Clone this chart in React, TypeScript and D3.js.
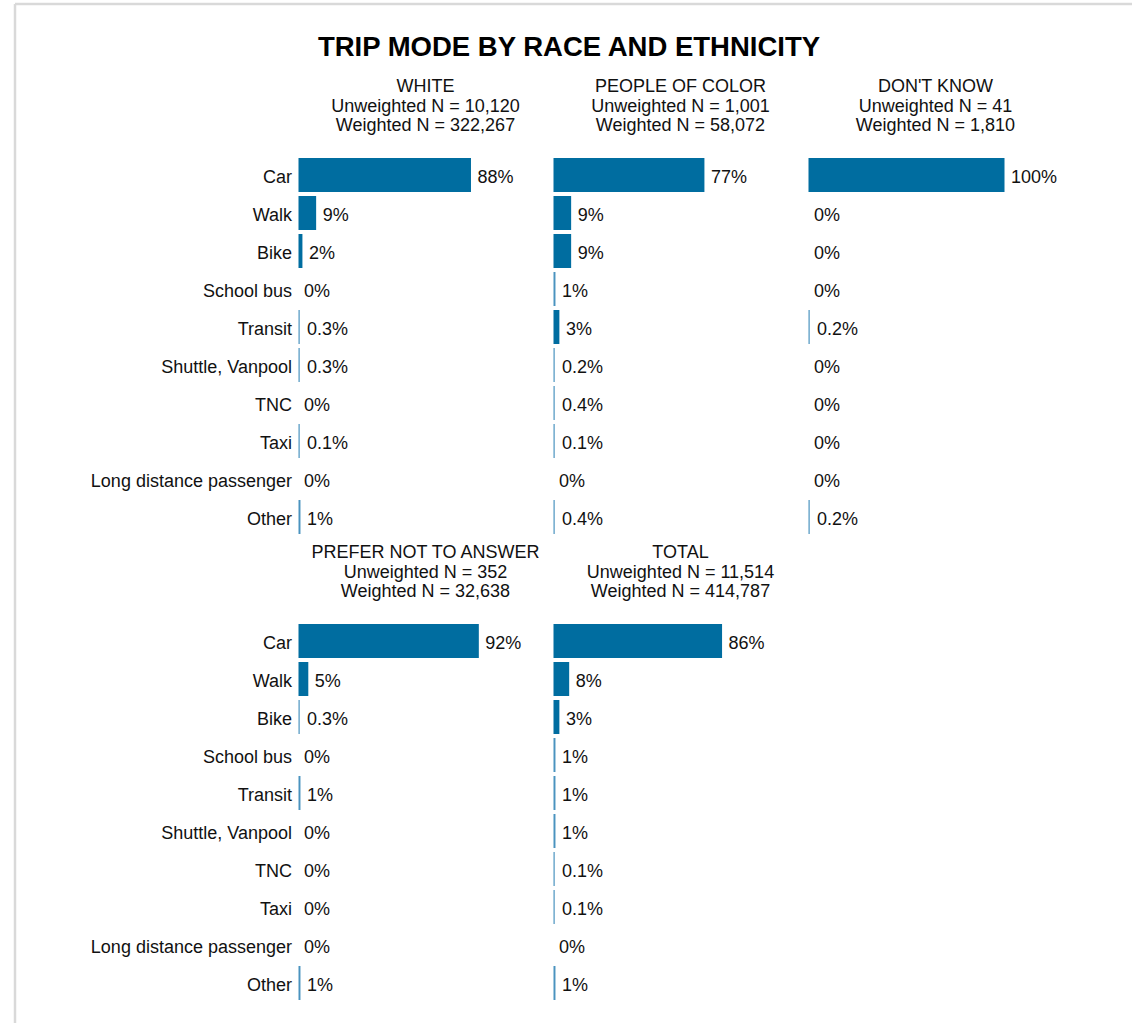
import React from "react";
import * as d3 from "d3";

const modes = [
  "Car",
  "Walk",
  "Bike",
  "School bus",
  "Transit",
  "Shuttle, Vanpool",
  "TNC",
  "Taxi",
  "Long distance passenger",
  "Other",
];

const groupNames = ["WHITE", "PEOPLE OF COLOR", "DON'T KNOW", "PREFER NOT TO ANSWER", "TOTAL"];
const unweightedN = ["10,120", "1,001", "41", "352", "11,514"];
const weightedN = ["322,267", "58,072", "1,810", "32,638", "414,787"];

const whiteValues = [88, 9, 2, 0, 0.3, 0.3, 0, 0.1, 0, 1];
const pocValues = [77, 9, 9, 1, 3, 0.2, 0.4, 0.1, 0, 0.4];
const dontKnowValues = [100, 0, 0, 0, 0.2, 0, 0, 0, 0, 0.2];
const preferNotValues = [92, 5, 0.3, 0, 1, 0, 0, 0, 0, 1];
const totalValues = [86, 8, 3, 1, 1, 1, 0.1, 0.1, 0, 1];

const groupValues = [whiteValues, pocValues, dontKnowValues, preferNotValues, totalValues];

const FONT = "'Liberation Sans', Arial, Helvetica, sans-serif";
const BAR = "#006da0";
const BAR_THIN = "#4a93bf";

function fmt(v: number) {
  if (v === 0) return "0%";
  if (v >= 1) return `${Math.round(v)}%`;
  return `${v.toFixed(1)}%`;
}

function Panel({ gi, x0, y0, showLabels }: { gi: number; x0: number; y0: number; showLabels: boolean }) {
  const x = d3.scaleLinear().domain([0, 100]).range([x0, x0 + 196]);
  const y = d3
    .scaleBand<string>()
    .domain(modes)
    .range([y0, y0 + modes.length * 38])
    .paddingInner(4 / 38)
    .paddingOuter(2 / 38);
  const vals = groupValues[gi];
  const cx = x0 + 127;
  const titleBase = y0 + 19 - 83.5;
  return (
    <g>
      <text x={cx} y={titleBase} textAnchor="middle" fontSize={18} fontFamily={FONT} fill="#111">
        {groupNames[gi]}
      </text>
      <text x={cx} y={titleBase + 20} textAnchor="middle" fontSize={18} fontFamily={FONT} fill="#111">
        {`Unweighted N = ${unweightedN[gi]}`}
      </text>
      <text x={cx} y={titleBase + 39.5} textAnchor="middle" fontSize={18} fontFamily={FONT} fill="#111">
        {`Weighted N = ${weightedN[gi]}`}
      </text>
      {modes.map((m, i) => {
        const v = vals[i];
        const yy = y(m)!;
        const raw = x(v) - x0;
        const thin = v > 0 && raw < 2;
        const w = v > 0 ? Math.max(raw, 1.2) : 0;
        const cy = yy + y.bandwidth() / 2;
        const labelX = v > 0 ? x0 + Math.max(raw, 2) + 6.5 : x0 + 5.5;
        return (
          <g key={m}>
            {showLabels && (
              <text x={x0 - 6.5} y={cy + 8} textAnchor="end" fontSize={18} fontFamily={FONT} fill="#111">
                {m}
              </text>
            )}
            {w > 0 && (
              <rect x={x0} y={yy} width={w} height={y.bandwidth()} fill={thin ? BAR_THIN : BAR} />
            )}
            <text x={labelX} y={cy + 8} textAnchor="start" fontSize={18} fontFamily={FONT} fill="#111">
              {fmt(v)}
            </text>
          </g>
        );
      })}
    </g>
  );
}

export default function App() {
  const baseX = 298.5;
  const step = 255;
  const topY = 156;
  const botY = 622;
  return (
    <svg
      width={1132}
      height={1023}
      style={{ position: "absolute", left: 0, top: 0, display: "block", background: "#fff" }}
    >
      <rect x={0} y={0} width={1132} height={1023} fill="#fff" />
      <line x1={15} y1={4} x2={1132} y2={4} stroke="#d9d9d9" strokeWidth={2.5} />
      <line x1={15} y1={4} x2={15} y2={1023} stroke="#d9d9d9" strokeWidth={2.5} />
      <text x={569} y={56} textAnchor="middle" fontSize={27.5} fontWeight="bold" fontFamily={FONT} fill="#000">
        TRIP MODE BY RACE AND ETHNICITY
      </text>
      <Panel gi={0} x0={baseX} y0={topY} showLabels={true} />
      <Panel gi={1} x0={baseX + step} y0={topY} showLabels={false} />
      <Panel gi={2} x0={baseX + 2 * step} y0={topY} showLabels={false} />
      <Panel gi={3} x0={baseX} y0={botY} showLabels={true} />
      <Panel gi={4} x0={baseX + step} y0={botY} showLabels={false} />
    </svg>
  );
}
